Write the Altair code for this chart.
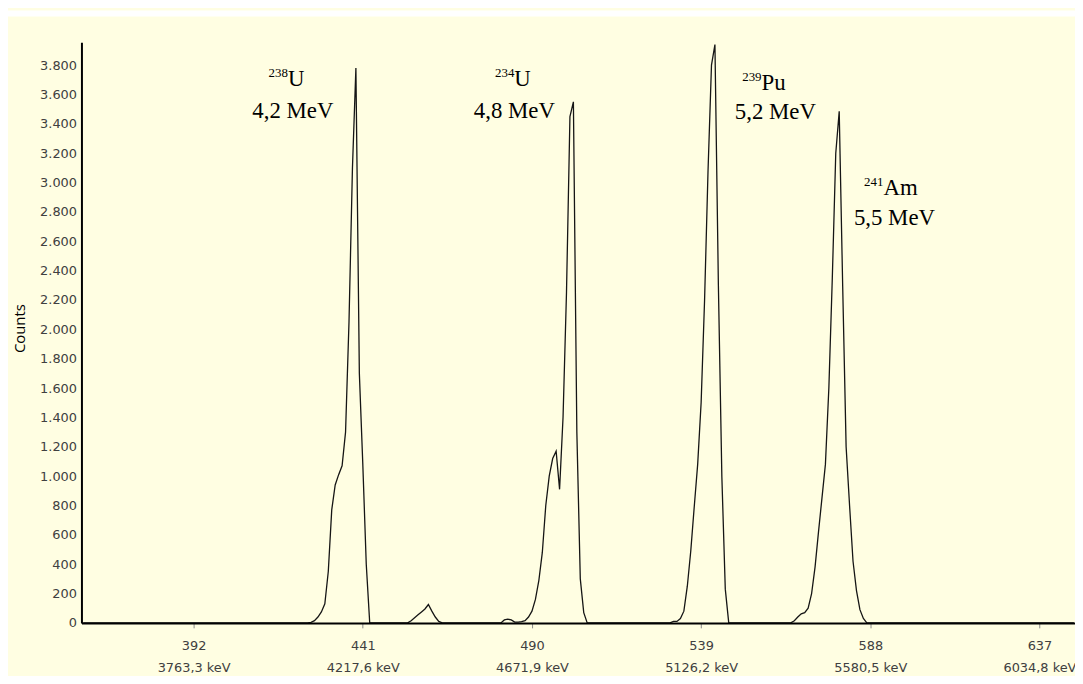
import altair as alt
import pandas as pd

# ---------------- data ----------------
# spectrum segments: first channel and counts per channel
u238_start = 425
u238_counts = [0, 4, 15, 40, 75, 130, 350, 770, 940, 1010, 1070, 1300, 2050, 3100, 3780, 1700, 1080, 400, 0]

bump_start = 454
bump_counts = [0, 15, 35, 55, 75, 95, 125, 80, 40, 10, 0]

u234_start = 481
u234_counts = [0, 20, 25, 20, 5, 5, 8, 15, 40, 80, 160, 290, 480, 800, 1000, 1120, 1170, 910,
               1400, 2250, 3450, 3550, 1300, 300, 70, 0]

pu239_start = 530
pu239_counts = [0, 10, 10, 30, 80, 250, 490, 790, 1080, 1500, 2200, 3080, 3800, 3940, 2300, 1000, 230, 0]

am241_start = 565
am241_counts = [0, 15, 40, 62, 70, 100, 200, 380, 620, 850, 1080, 1600, 2350, 3200, 3485, 2300,
                1200, 800, 420, 220, 90, 30, 0]

channel_first = 360
channel_last = 647

# axis ticks
x_tick_channels = [392, 441, 490, 539, 588, 637]
x_tick_energies = ["3763,3 keV", "4217,6 keV", "4671,9 keV", "5126,2 keV", "5580,5 keV", "6034,8 keV"]
y_ticks = [0, 200, 400, 600, 800, 1000, 1200, 1400, 1600, 1800, 2000, 2200, 2400, 2600,
           2800, 3000, 3200, 3400, 3600, 3800]

# peak annotations
iso_sup = ["238", "234", "239", "241"]
iso_name = ["U", "U", "Pu", "Am"]
iso_energy = ["4,2 MeV", "4,8 MeV", "5,2 MeV", "5,5 MeV"]
iso_ch = [419.3, 484.9, 556.5, 591.8]
iso_cnt = [3658, 3658, 3631, 2915]
energy_ch = [420.75, 484.9, 560.5, 595.0]
energy_cnt = [3442, 3442, 3435, 2712]

# ---------------- build tables ----------------
counts = {c: 0 for c in range(channel_first, channel_last + 1)}
for start, vals in [(u238_start, u238_counts), (bump_start, bump_counts), (u234_start, u234_counts),
                    (pu239_start, pu239_counts), (am241_start, am241_counts)]:
    for i, v in enumerate(vals):
        counts[start + i] = v
spec = pd.DataFrame({"channel": list(counts.keys()), "counts": list(counts.values())})

annot = pd.DataFrame({"sup": iso_sup, "iso": iso_name, "energy": iso_energy,
                      "iso_ch": iso_ch, "iso_cnt": iso_cnt,
                      "energy_ch": energy_ch, "energy_cnt": energy_cnt})

W, H = 1001, 585
PAD = {"left": 74, "top": 32, "right": 0, "bottom": 51}

xs = alt.Scale(domain=[359.5, 647.3], nice=False, zero=False)
ys = alt.Scale(domain=[0, 3956], nice=False)

nested = "''"
for ch, lab in reversed(list(zip(x_tick_channels, x_tick_energies))):
    nested = f"(datum.value == {ch} ? '{lab}' : {nested})"
x_label_expr = f"[datum.label, {nested}]"

label_color = "#404040"
x_axis = alt.Axis(values=x_tick_channels, labelExpr=x_label_expr, tickSize=5, tickColor="#8a8a8a",
                  tickWidth=1, domainColor="black", domainWidth=2, labelFont="DejaVu Sans",
                  labelFontSize=13, labelColor=label_color, labelPadding=12, labelLineHeight=22,
                  labelFlush=False, labelOverlap=False, grid=False, title=None, zindex=1)
y_axis = alt.Axis(values=y_ticks, labelExpr="replace(format(datum.value, ','), ',', '.')",
                  ticks=False, labelPadding=5, labelFont="DejaVu Sans", labelFontSize=13,
                  labelColor=label_color, labelOverlap=False, labelFlush=False,
                  domainColor="black", domainWidth=2, grid=False,
                  title="Counts", titleFont="Open Sans", titleFontSize=15, titleFontWeight="normal",
                  titleColor="black", titleX=-62, titleY=288, titleAngle=270, titleAlign="center",
                  titleBaseline="middle", zindex=1)

strip = alt.Chart(pd.DataFrame({"k": [0]})).mark_rect(color="white").encode(
    x=alt.value(-PAD["left"]), x2=alt.value(W), y=alt.value(-PAD["top"]), y2=alt.value(-PAD["top"] + 6))

line = alt.Chart(spec).mark_line(color="#151515", strokeWidth=1.3).encode(
    x=alt.X("channel:Q", scale=xs, axis=x_axis),
    y=alt.Y("counts:Q", scale=ys, axis=y_axis),
)

serif = "Liberation Serif"
sup_text = alt.Chart(annot).mark_text(align="right", baseline="alphabetic", dy=-9.5, font=serif,
                                      fontSize=13, color="black").encode(
    x=alt.X("iso_ch:Q", scale=xs, axis=x_axis), y=alt.Y("iso_cnt:Q", scale=ys, axis=y_axis), text="sup:N")
iso_text = alt.Chart(annot).mark_text(align="left", baseline="alphabetic", font=serif,
                                      fontSize=23, color="black").encode(
    x=alt.X("iso_ch:Q", scale=xs, axis=x_axis), y=alt.Y("iso_cnt:Q", scale=ys, axis=y_axis), text="iso:N")
en_text = alt.Chart(annot).mark_text(align="center", baseline="alphabetic", font=serif,
                                     fontSize=23, color="black").encode(
    x=alt.X("energy_ch:Q", scale=xs, axis=x_axis), y=alt.Y("energy_cnt:Q", scale=ys, axis=y_axis),
    text="energy:N")

chart = alt.layer(strip, line, sup_text, iso_text, en_text).properties(
    width=W, height=H, autosize=alt.AutoSizeParams(type="none"), padding=PAD
).configure(background="#FFFEE2").configure_view(stroke="transparent").configure_axis(labelOverlap=False)

chart.save("out.html", embed_options={"renderer": "svg", "actions": False})
